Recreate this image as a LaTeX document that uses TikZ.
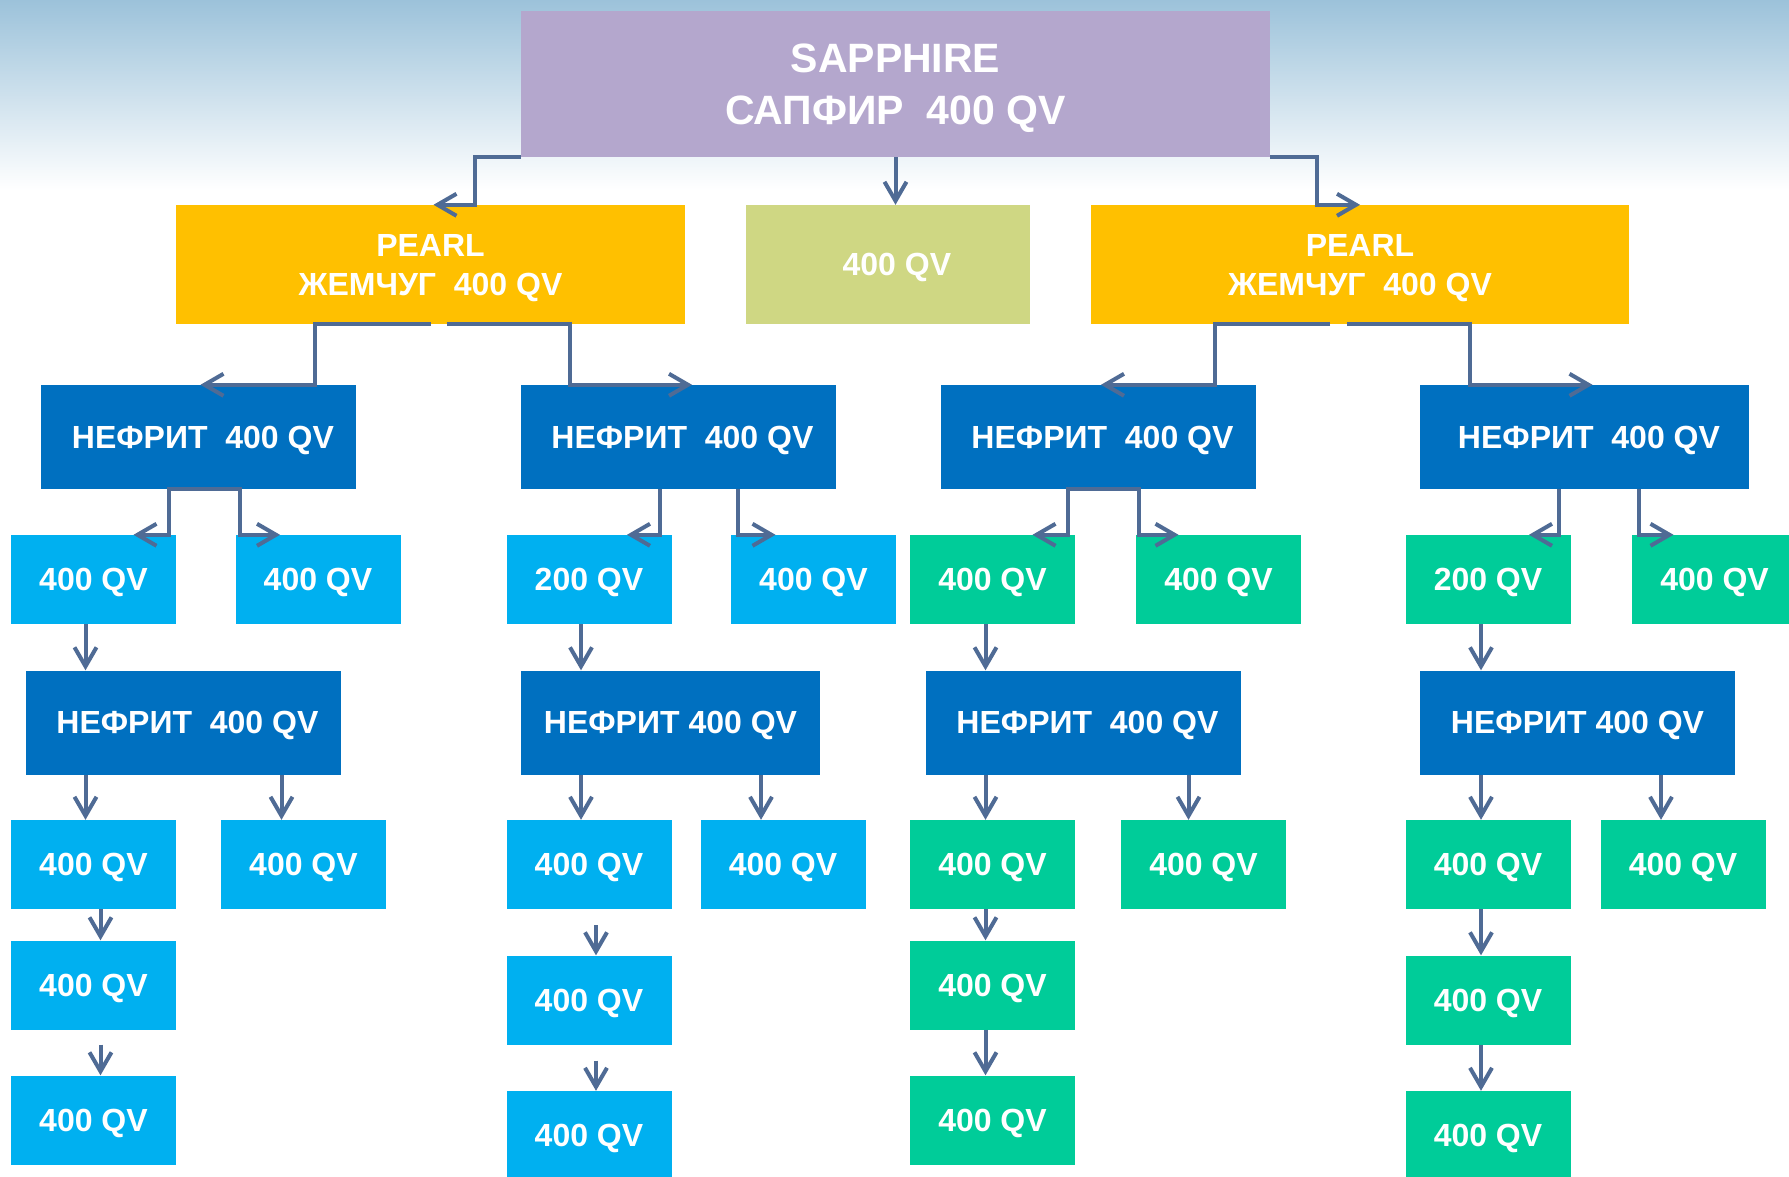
\documentclass[tikz,border=0pt]{standalone}
\usepackage{fontspec}
\setmainfont{Liberation Sans}
\usetikzlibrary{arrows.meta}

\definecolor{gemcol}{HTML}{B4A7CD}
\definecolor{pearlcol}{HTML}{FFC000}
\definecolor{midcol}{HTML}{CFD783}
\definecolor{jadecol}{HTML}{0070C0}
\definecolor{skycol}{HTML}{00B0F0}
\definecolor{mintcol}{HTML}{00CC99}
\definecolor{linkcol}{HTML}{4F6B95}
\definecolor{topcol}{HTML}{9CC2DA}

\begin{document}
\begin{tikzpicture}[x=1pt,y=-1pt]
          \tikzstyle{box}=[rectangle,inner sep=0pt,text=white,align=center,text depth=-7pt,font=\bfseries\fontsize{32}{39}\selectfont]
          \tikzstyle{gem}=[box,fill=gemcol,minimum width=749pt,minimum height=146pt,font=\bfseries\fontsize{41}{52}\selectfont]
          \tikzstyle{pearl}=[box,fill=pearlcol,minimum width=509pt,minimum height=119pt]
          \tikzstyle{mid}=[box,fill=midcol,minimum width=284pt,minimum height=119pt]
          \tikzstyle{jade}=[box,fill=jadecol,minimum width=315pt,minimum height=104pt]
          \tikzstyle{sky}=[box,fill=skycol,minimum width=165pt,minimum height=89pt]
          \tikzstyle{mint}=[box,fill=mintcol,minimum width=165pt,minimum height=89pt]
          \tikzstyle{link}=[draw=linkcol,line width=4pt,-{Straight Barb[length=19pt,width=22pt,line width=4pt]}]

          \useasboundingbox (0,0) rectangle (1789,1177);
          \fill[white] (0,0) rectangle (1789,1177);
          \shade[top color=topcol,bottom color=white] (0,0) rectangle (1789,190);

          % top
          \node[gem](sapphire) at (895.5,84) {SAPPHIRE\ \\САПФИР\ \ 400 QV};

          % second row
          \node[pearl](pearlL) at (430.5,264.5) {PEARL\\ЖЕМЧУГ\ \ 400 QV};
          \node[mid](mid) at (888,264.5) {\ \ 400 QV};
          \node[pearl,minimum width=538pt](pearlR) at (1360,264.5) {PEARL\\ЖЕМЧУГ\ \ 400 QV};

          % nephrite, first level
          \node[jade](jade1) at (198.5,437) {\ НЕФРИТ\ \ 400 QV};
          \node[jade](jade2) at (678,437) {\ НЕФРИТ\ \ 400 QV};
          \node[jade](jade3) at (1098,437) {\ НЕФРИТ\ \ 400 QV};
          \node[jade,minimum width=329pt](jade4) at (1584.5,437) {\ НЕФРИТ\ \ 400 QV};

          \node[sky](sky1) at (93.5,579.5) {400 QV};
          \node[sky](sky2) at (318,579.5) {400 QV};
          \node[sky](sky3) at (589,579.5) {200 QV};
          \node[sky](sky4) at (813.5,579.5) {400 QV};
          \node[mint](mint1) at (992.5,579.5) {400 QV};
          \node[mint](mint2) at (1218.5,579.5) {400 QV};
          \node[mint](mint3) at (1488,579.5) {200 QV};
          \node[mint](mint4) at (1714.5,579.5) {400 QV};

          % nephrite, second level
          \node[jade](jade5) at (183,722.5) {\ НЕФРИТ\ \ 400 QV};
          \node[jade,minimum width=299pt](jade6) at (670.5,722.5) {НЕФРИТ 400 QV};
          \node[jade](jade7) at (1083,722.5) {\ НЕФРИТ\ \ 400 QV};
          \node[jade](jade8) at (1577.5,722.5) {НЕФРИТ 400 QV};

          \node[sky](sky5) at (93.5,864.5) {400 QV};
          \node[sky](sky6) at (303.5,864.5) {400 QV};
          \node[sky](sky7) at (589,864.5) {400 QV};
          \node[sky](sky8) at (783,864.5) {400 QV};
          \node[mint](mint5) at (992.5,864.5) {400 QV};
          \node[mint](mint6) at (1203.5,864.5) {400 QV};
          \node[mint](mint7) at (1488,864.5) {400 QV};
          \node[mint](mint8) at (1683,864.5) {400 QV};

          \node[sky](sky9) at (93.5,985) {400 QV};
          \node[sky](sky10) at (93.5,1120) {400 QV};
          \node[sky](sky11) at (589,1000) {400 QV};
          \node[sky](sky12) at (589,1135.5) {400 QV};
          \node[mint](mint9) at (992.5,985) {400 QV};
          \node[mint](mint10) at (992.5,1120) {400 QV};
          \node[mint](mint11) at (1488,1000) {400 QV};
          \node[mint](mint12) at (1488,1135.5) {400 QV};

          % connectors
          \draw[link] (sapphire.south west) -- ([xshift=-46pt]sapphire.south west) |- ([xshift=3pt]pearlL.north);
          \draw[link] (sapphire.south) -- (sapphire.south |- mid.north);
          \draw[link] (sapphire.south east) -- ([xshift=47pt]sapphire.south east) |- (pearlR.north);

          \draw[link] (pearlL.south) -- ([xshift=-116pt]pearlL.south) |- ([xshift=2pt]jade1.north);
          \draw[link] ([xshift=16pt]pearlL.south) -- ([xshift=139pt]pearlL.south) |- ([xshift=14pt]jade2.north);
          \draw[link] ([xshift=-30pt]pearlR.south) -- ([xshift=-145pt]pearlR.south) |- ([xshift=3pt]jade3.north);
          \draw[link] ([xshift=-13pt]pearlR.south) -- ([xshift=110pt]pearlR.south) |- ([xshift=8pt]jade4.north);

          \draw[link] (jade1.south) -- ([xshift=-30pt]jade1.south) |- ([xshift=40pt]sky1.north);
          \draw[link] (jade1.south) -- ([xshift=41pt]jade1.south) |- ([xshift=-38pt]sky2.north);
          \draw[link] ([xshift=-18pt]jade2.south) |- ([xshift=38pt]sky3.north);
          \draw[link] ([xshift=60pt]jade2.south) |- ([xshift=-38pt]sky4.north);
          \draw[link] (jade3.south) -- ([xshift=-30pt]jade3.south) |- ([xshift=40pt]mint1.north);
          \draw[link] (jade3.south) -- ([xshift=41pt]jade3.south) |- ([xshift=-40pt]mint2.north);
          \draw[link] ([xshift=-26pt]jade4.south) |- ([xshift=41pt]mint3.north);
          \draw[link] ([xshift=54pt]jade4.south) |- ([xshift=-41pt]mint4.north);

          \draw[link] ([xshift=-8pt]sky1.south) -- ([xshift=-8pt]sky1.south |- jade5.north);
          \draw[link] ([xshift=-8pt]sky3.south) -- ([xshift=-8pt]sky3.south |- jade6.north);
          \draw[link] ([xshift=-7pt]mint1.south) -- ([xshift=-7pt]mint1.south |- jade7.north);
          \draw[link] ([xshift=-7pt]mint3.south) -- ([xshift=-7pt]mint3.south |- jade8.north);

          \draw[link] ([xshift=-8pt]sky5.north |- jade5.south) -- ([xshift=-8pt]sky5.north);
          \draw[link] ([xshift=-22pt]sky6.north |- jade5.south) -- ([xshift=-22pt]sky6.north);
          \draw[link] ([xshift=-8pt]sky7.north |- jade6.south) -- ([xshift=-8pt]sky7.north);
          \draw[link] ([xshift=-22pt]sky8.north |- jade6.south) -- ([xshift=-22pt]sky8.north);
          \draw[link] ([xshift=-7pt]mint5.north |- jade7.south) -- ([xshift=-7pt]mint5.north);
          \draw[link] ([xshift=-15pt]mint6.north |- jade7.south) -- ([xshift=-15pt]mint6.north);
          \draw[link] ([xshift=-7pt]mint7.north |- jade8.south) -- ([xshift=-7pt]mint7.north);
          \draw[link] ([xshift=-22pt]mint8.north |- jade8.south) -- ([xshift=-22pt]mint8.north);

          \draw[link] ([xshift=7pt]sky5.south) -- ([xshift=7pt]sky9.north);
          \draw[link] ([xshift=7pt,yshift=-15pt]sky9.south) -- ([xshift=7pt]sky10.north);
          \draw[link] ([xshift=7pt,yshift=-16pt]sky7.south) -- ([xshift=7pt]sky11.north);
          \draw[link] ([xshift=7pt,yshift=-16pt]sky11.south) -- ([xshift=7pt]sky12.north);
          \draw[link] ([xshift=-7pt]mint5.south) -- ([xshift=-7pt]mint9.north);
          \draw[link] ([xshift=-7pt]mint9.south) -- ([xshift=-7pt]mint10.north);
          \draw[link] ([xshift=-7pt]mint7.south) -- ([xshift=-7pt]mint11.north);
          \draw[link] ([xshift=-7pt]mint11.south) -- ([xshift=-7pt]mint12.north);
\end{tikzpicture}
\end{document}
